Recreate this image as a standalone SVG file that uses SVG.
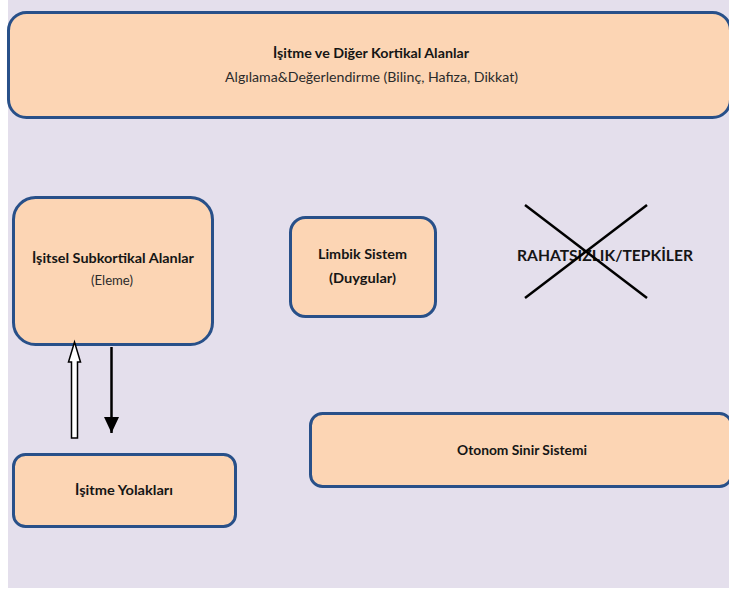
<svg xmlns="http://www.w3.org/2000/svg" width="729" height="590" viewBox="0 0 729 590">
  <style>
    .box { fill: #fcd5b4; stroke: #285089; stroke-width: 3; }
    .t { font-family: Lato, "Open Sans", "Liberation Sans", sans-serif; fill: #151515; text-anchor: middle; }
    .b { font-weight: bold; font-size: 13px; }
    .n { font-weight: normal; font-size: 13.5px; fill: #2b2b2b; }
  </style>
  <defs>
    <!-- solid triangular head, drawn pointing along +x so orient="auto" follows the line -->
    <marker id="headSolid" markerWidth="16" markerHeight="16" refX="0" refY="0" viewBox="-16 -8 16 16" markerUnits="userSpaceOnUse" orient="auto">
      <polygon points="-16,-7.5 -16,7.5 0,0" fill="#000"/>
    </marker>
  </defs>

  <!-- page background -->
  <rect x="0" y="0" width="729" height="590" fill="#ffffff"/>
  <rect x="8" y="0" width="721" height="588" fill="#e4dfec"/>

  <g id="kortikal">
    <rect class="box" x="8.5" y="12.5" width="722" height="105" rx="18"/>
    <text class="t b" x="371" y="58" textLength="196" lengthAdjust="spacingAndGlyphs">İşitme ve Diğer Kortikal Alanlar</text>
    <text class="t n" x="371.5" y="82" textLength="293" lengthAdjust="spacingAndGlyphs">Algılama&amp;Değerlendirme (Bilinç, Hafıza, Dikkat)</text>
  </g>

  <g id="subkortikal">
    <rect class="box" x="13.5" y="197.5" width="199" height="147" rx="22"/>
    <text class="t b" x="113" y="263" textLength="162" lengthAdjust="spacingAndGlyphs">İşitsel Subkortikal Alanlar</text>
    <text class="t n" x="112" y="285" textLength="42" lengthAdjust="spacingAndGlyphs">(Eleme)</text>
  </g>

  <g id="limbik">
    <rect class="box" x="290.5" y="217.5" width="145" height="99" rx="15"/>
    <text class="t b" x="362.5" y="259" textLength="89" lengthAdjust="spacingAndGlyphs">Limbik Sistem</text>
    <text class="t b" x="362.5" y="283" textLength="67" lengthAdjust="spacingAndGlyphs">(Duygular)</text>
  </g>

  <g id="rahatsizlik">
    <text class="t b" x="605" y="261" style="font-size:15px" textLength="176" lengthAdjust="spacingAndGlyphs">RAHATSIZLIK/TEPKİLER</text>
    <line x1="525" y1="205" x2="647" y2="298" stroke="#000" stroke-width="2.5"/>
    <line x1="647" y1="205" x2="525" y2="298" stroke="#000" stroke-width="2.5"/>
  </g>

  <g id="otonom">
    <rect class="box" x="310.5" y="413.5" width="421" height="73" rx="12"/>
    <text class="t b" x="522" y="455" textLength="130" lengthAdjust="spacingAndGlyphs">Otonom Sinir Sistemi</text>
  </g>

  <g id="yolaklar">
    <rect class="box" x="13.5" y="454.5" width="222" height="72" rx="12"/>
    <text class="t b" x="124" y="495" textLength="98" lengthAdjust="spacingAndGlyphs">İşitme Yolakları</text>
  </g>

  <g id="connectors">
    <!-- upward hollow arrow: pathways to subcortical areas -->
    <polygon points="71.5,438 71.5,362 68.5,362 74.5,342 80.5,362 77.5,362 77.5,438" fill="#ffffff" stroke="#000" stroke-width="1.5" stroke-linejoin="miter"/>
    <!-- downward solid arrow: subcortical areas to pathways -->
    <line x1="111.5" y1="347" x2="111.5" y2="433" stroke="#000" stroke-width="2.5" marker-end="url(#headSolid)"/>
  </g>
</svg>
